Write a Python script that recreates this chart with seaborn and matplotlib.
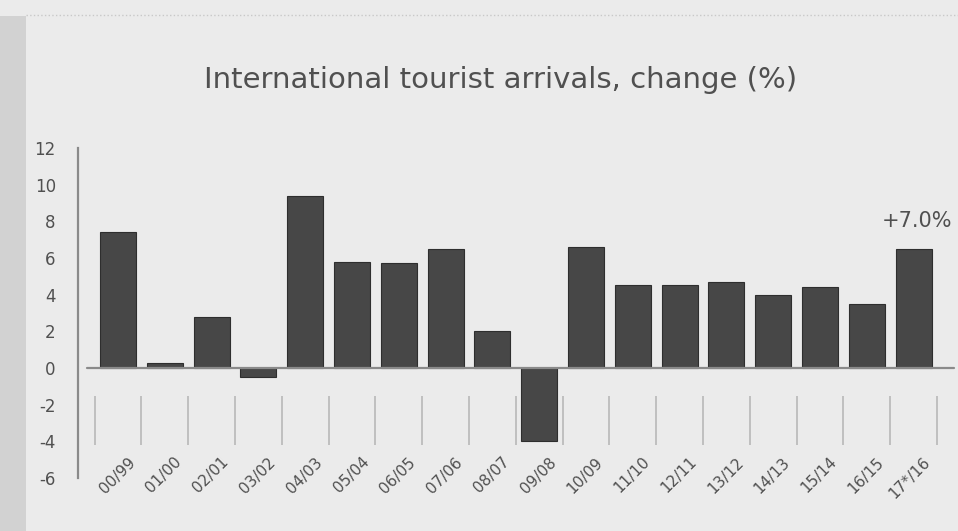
import matplotlib
matplotlib.use('Agg')
import matplotlib.pyplot as plt
import seaborn as sns
from matplotlib.patches import Rectangle

# Data
periods = ['00/99', '01/00', '02/01', '03/02', '04/03', '05/04', '06/05', '07/06', '08/07',
           '09/08', '10/09', '11/10', '12/11', '13/12', '14/13', '15/14', '16/15', '17*/16']
change = [7.4, 0.3, 2.8, -0.5, 9.4, 5.8, 5.7, 6.5, 2.0,
          -4.0, 6.6, 4.5, 4.5, 4.7, 4.0, 4.4, 3.5, 6.5]
yticks = [-6, -4, -2, 0, 2, 4, 6, 8, 10, 12]
last_label = '+7.0%'

sns.set_style('white')
plt.rcParams['font.family'] = ['DejaVu Sans']

bg = '#ebebeb'
text_col = '#505050'

fig = plt.figure(figsize=(9.58, 5.31), dpi=100, facecolor=bg)
ax = fig.add_axes([0.0814, 0.0998, 0.9186, 0.6215])
ax.set_facecolor(bg)

# paper border shading on the left and dotted top edge
fig.patches.append(Rectangle((0, 0), 0.027, 0.97, transform=fig.transFigure,
                             facecolor='#d2d2d2', edgecolor='none', zorder=0))
fig.add_artist(plt.Line2D([0.027, 1], [0.972, 0.972], transform=fig.transFigure,
                          color='#c8c8c8', lw=1, ls=':'))

sns.barplot(x=periods, y=change, order=periods, color='#474747', width=0.77,
            edgecolor='#2e2e2e', linewidth=0.8, saturation=1, ax=ax)

# category separators below the zero line
ax.vlines([i - 0.5 for i in range(len(periods) + 1)], -4.2, -1.5,
          color='#b8b8b8', lw=1.2, zorder=0)
ax.axhline(0, xmin=0.01, xmax=0.995, color='#8a8a8a', lw=1.6, zorder=1)

ax.set_xlim(-0.855, 17.95)
ax.set_ylim(-6, 12)
ax.set_yticks(yticks)
ax.set_yticklabels([str(t) for t in yticks], color=text_col, fontsize=12)
ax.tick_params(axis='y', length=4, color='#8a8a8a', pad=12)
ax.tick_params(axis='x', length=0, pad=-17)
ax.set_xticks([i + 0.2 for i in range(len(periods))])
ax.set_xticklabels(periods, rotation=45, ha='right', rotation_mode='anchor',
                   color=text_col, fontsize=11)

for side in ['top', 'right', 'bottom']:
    ax.spines[side].set_visible(False)
ax.spines['left'].set_color('#8a8a8a')
ax.spines['left'].set_linewidth(1.6)

ax.text(16.32, 7.7, last_label, ha='left', va='baseline', fontsize=15,
        color=text_col, clip_on=False)

fig.text(0.522, 0.835, 'International tourist arrivals, change (%)',
         ha='center', va='baseline', fontsize=21, color=text_col)

ax.set_xlabel('')
ax.set_ylabel('')

fig.savefig('out.png', dpi=100, facecolor=bg)
